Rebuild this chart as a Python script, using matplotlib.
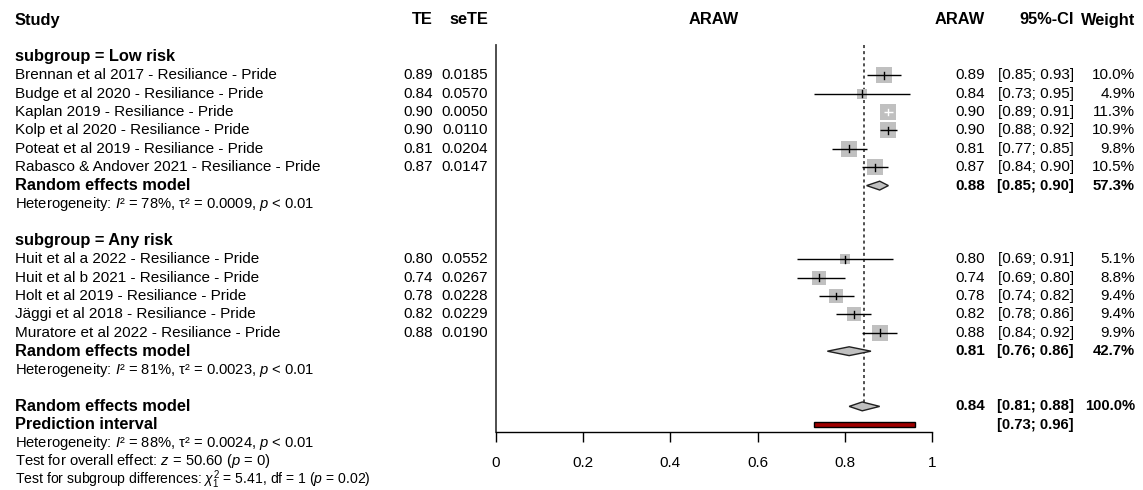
import numpy as np
import matplotlib.pyplot as plt
import matplotlib.transforms as mtransforms
from matplotlib.patches import Polygon, Rectangle

plt.rcParams['font.family'] = ['Liberation Sans', 'DejaVu Sans']
plt.rcParams['mathtext.fontset'] = 'custom'
plt.rcParams['mathtext.rm'] = 'Liberation Sans'
plt.rcParams['mathtext.it'] = 'Liberation Sans:italic'
plt.rcParams['mathtext.bf'] = 'Liberation Sans:bold'

# data
low_names = ['Brennan et al 2017 - Resiliance - Pride', 'Budge et al 2020 - Resiliance - Pride',
             'Kaplan 2019 - Resiliance - Pride', 'Kolp et al 2020 - Resiliance - Pride',
             'Poteat et al 2019 - Resiliance - Pride', 'Rabasco & Andover 2021 - Resiliance - Pride']
low_te = [0.89, 0.84, 0.90, 0.90, 0.81, 0.87]
low_se = ['0.0185', '0.0570', '0.0050', '0.0110', '0.0204', '0.0147']
low_lo = [0.85, 0.73, 0.89, 0.88, 0.77, 0.84]
low_hi = [0.93, 0.95, 0.91, 0.92, 0.85, 0.90]
low_w = [10.0, 4.9, 11.3, 10.9, 9.8, 10.5]

any_names = ['Huit et al a 2022 - Resiliance - Pride', 'Huit et al b 2021 - Resiliance - Pride',
             'Holt et al 2019 - Resiliance - Pride', 'Jäggi et al 2018 - Resiliance - Pride',
             'Muratore et al 2022 - Resiliance - Pride']
any_te = [0.80, 0.74, 0.78, 0.82, 0.88]
any_se = ['0.0552', '0.0267', '0.0228', '0.0229', '0.0190']
any_lo = [0.69, 0.69, 0.74, 0.78, 0.84]
any_hi = [0.91, 0.80, 0.82, 0.86, 0.92]
any_w = [5.1, 8.8, 9.4, 9.4, 9.9]

re_te = [0.88, 0.81, 0.84]
re_lo = [0.85, 0.76, 0.81]
re_hi = [0.90, 0.86, 0.88]
re_w = ['57.3%', '42.7%', '100.0%']
re_center = 0.845
pi_lo, pi_hi = 0.73, 0.96

het_low = r'Heterogeneity: $I$² = 78%, τ² = 0.0009, $p$ < 0.01'
het_any = r'Heterogeneity: $I$² = 81%, τ² = 0.0023, $p$ < 0.01'
het_all = r'Heterogeneity: $I$² = 88%, τ² = 0.0024, $p$ < 0.01'
test_all = r'Test for overall effect: $z$ = 50.60 ($p$ = 0)'
test_sub = r'Test for subgroup differences: $\chi^2_1$ = 5.41, df = 1 ($p$ = 0.02)'

xticks = [0, 0.2, 0.4, 0.6, 0.8, 1]
xticklabels = ['0', '0.2', '0.4', '0.6', '0.8', '1']

W, H = 1143, 490
row0, rowh = 20.0, 18.4   # pixel y of first row, row height
FS, FSB, FSH = 11, 11.8, 10.6   # normal, bold, heterogeneity font sizes

fig = plt.figure(figsize=(W / 100, H / 100), dpi=100)
top_px, bot_px = 45, 432
ax = fig.add_axes([496 / W, 1 - bot_px / H, 436 / W, (bot_px - top_px) / H])
ax.set_xlim(0, 1)
ax.set_ylim((bot_px - row0) / rowh, (top_px - row0) / rowh)
ax.spines['top'].set_visible(False)
ax.spines['right'].set_visible(False)
ax.spines['left'].set_color('#404040')
ax.spines['left'].set_linewidth(1.3)
ax.spines['bottom'].set_linewidth(1.0)
ax.set_yticks([])
ax.set_xticks(xticks)
ax.set_xticklabels(xticklabels, fontsize=FS)
ax.tick_params(axis='x', length=7.5, width=1, pad=9.5)

tr = mtransforms.blended_transform_factory(fig.transFigure, ax.transData)


def col(px, y, s, ha='right', bold=False, **kw):
    kw.setdefault('fontsize', FSB if bold else FS)
    ax.text(px / W, y, s, transform=tr, ha=ha, va='center', clip_on=False,
            fontweight='bold' if bold else 'normal', **kw)


# header
col(15, 0, 'Study', ha='left', bold=True)
col(433, 0, 'TE', bold=True)
col(488, 0, 'seTE', bold=True)
ax.text(0.5, 0, 'ARAW', transform=mtransforms.blended_transform_factory(ax.transAxes, ax.transData),
        ha='center', va='center', fontsize=FSB, fontweight='bold', clip_on=False)
col(985, 0, 'ARAW', bold=True)
col(1074, 0, '95%-CI', bold=True)
col(1135, 0, 'Weight', bold=True)

gray = '#c0c0c0'


def study_rows(start, names, te, se, lo, hi, w):
    for i in range(len(names)):
        y = start + i
        col(15, y, names[i], ha='left')
        col(433, y, f'{te[i]:.2f}')
        col(488, y, se[i])
        col(985, y, f'{te[i]:.2f}')
        col(1074, y, f'[{lo[i]:.2f}; {hi[i]:.2f}]')
        col(1135, y, f'{w[i]:.1f}%')
        side_px = 4.8 * np.sqrt(w[i])
        ax.scatter(te[i], y, s=(side_px * 0.72) ** 2, marker='s', color=gray, linewidths=0, zorder=2)
        inside = (hi[i] - lo[i]) * 436 < side_px
        c = 'white' if inside else 'black'
        ax.plot([lo[i], hi[i]], [y, y], color=c, lw=1.0, zorder=3, solid_capstyle='butt')
        ax.plot([te[i], te[i]], [y - 0.18, y + 0.18], color=c, lw=1.0, zorder=3)


def diamond(y, te, lo, hi, h=0.24):
    ax.add_patch(Polygon([(lo, y), (te, y - h), (hi, y), (te, y + h)], closed=True,
                         facecolor=gray, edgecolor='#202020', lw=1.0, zorder=3))


def pooled(y, k, label='Random effects model'):
    col(15, y, label, ha='left', bold=True)
    diamond(y, re_te[k], re_lo[k], re_hi[k])
    col(985, y, f'{re_te[k]:.2f}', bold=True, fontsize=FS)
    col(1074, y, f'[{re_lo[k]:.2f}; {re_hi[k]:.2f}]', bold=True, fontsize=FS - 0.3)
    col(1135, y, re_w[k], bold=True, fontsize=FS - 0.3)


# low risk
col(15, 2, 'subgroup = Low risk', ha='left', bold=True)
study_rows(3, low_names, low_te, low_se, low_lo, low_hi, low_w)
pooled(9, 0)
col(15, 10, het_low, ha='left', fontsize=FSH)

# any risk
col(15, 12, 'subgroup = Any risk', ha='left', bold=True)
study_rows(13, any_names, any_te, any_se, any_lo, any_hi, any_w)
pooled(18, 1)
col(15, 19, het_any, ha='left', fontsize=FSH)

# overall
pooled(21, 2)
col(15, 22, 'Prediction interval', ha='left', bold=True)
col(1074, 22, f'[{pi_lo:.2f}; {pi_hi:.2f}]', bold=True, fontsize=FS - 0.3)
ax.add_patch(Rectangle((pi_lo, 22 - 0.14), pi_hi - pi_lo, 0.28, facecolor='#a00000',
                       edgecolor='black', lw=1.0, zorder=3))
col(15, 23, het_all, ha='left', fontsize=FSH)
col(15, 23.95, test_all, ha='left', fontsize=FSH)
col(15, 25.0, test_sub, ha='left', fontsize=FSH - 0.5)

# reference line at pooled estimate
ax.vlines(re_center, (top_px - row0) / rowh, 21.1, colors='#202020', linestyles=(0, (2, 2)),
          lw=1.1, zorder=1)

fig.savefig('out.png', dpi=100)
